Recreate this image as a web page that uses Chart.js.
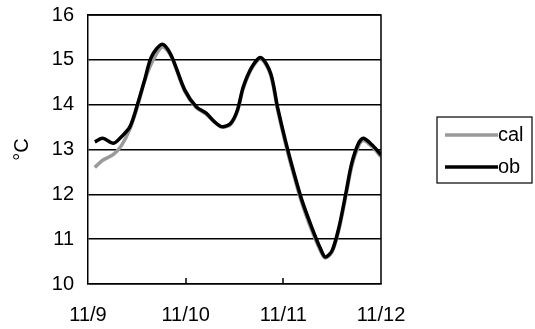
<!DOCTYPE html>
<html>
<head>
<meta charset="utf-8">
<script src="https://cdn.jsdelivr.net/npm/chart.js@4/dist/chart.umd.min.js"></script>
<style>
    html, body { margin: 0; padding: 0; background: #fff; }
    #wrap { width: 535px; height: 329px; }
</style>
</head>
<body>
<div id="wrap"><canvas id="chart" width="535" height="329"></canvas></div>
<script>
// time in days since 11/9 00:00
const days = [0.07, 0.15, 0.26, 0.34, 0.43, 0.51, 0.58, 0.65, 0.76, 0.85, 0.99, 1.11, 1.21, 1.29,
    1.37, 1.46, 1.53, 1.59, 1.68, 1.77, 1.87, 1.94, 2.02, 2.11, 2.19, 2.29, 2.38, 2.43, 2.50, 2.57,
    2.64, 2.70, 2.77, 2.82, 2.91, 3.0];
const obValues = [13.17, 13.25, 13.14, 13.28, 13.51, 14.03, 14.55, 15.07, 15.35, 15.11, 14.33, 13.95,
    13.81, 13.63, 13.51, 13.58, 13.88, 14.40, 14.85, 15.05, 14.70, 13.95, 13.21, 12.47, 11.87, 11.27,
    10.79, 10.60, 10.75, 11.27, 12.02, 12.69, 13.14, 13.25, 13.10, 12.88];
const calValues = [12.60, 12.76, 12.89, 13.08, 13.46, 13.98, 14.53, 14.92, 15.29, 15.08, 14.30, 13.93,
    13.79, 13.62, 13.50, 13.56, 13.85, 14.36, 14.82, 15.02, 14.66, 13.90, 13.15, 12.40, 11.80, 11.20,
    10.74, 10.58, 10.72, 11.22, 11.96, 12.62, 13.08, 13.20, 13.06, 12.84];
const xTickLabels = ['11/9', '11/10', '11/11', '11/12'];
const seriesNames = ['cal', 'ob'];

const FONT = 'Liberation Sans, Arial, sans-serif';

function toPoints(values) {
    return values.map((v, i) => ({ x: days[i], y: v }));
}

// small tick marks pointing up from the x axis + boxed legend
const extras = {
    id: 'extras',
    afterDraw(chart) {
        const { ctx, chartArea } = chart;
        const xs = chart.scales.x;
        ctx.save();
        ctx.strokeStyle = '#000';
        ctx.lineWidth = 1.5;
        [1, 2].forEach((d) => {
            const px = Math.round(xs.getPixelForValue(d));
            ctx.beginPath();
            ctx.moveTo(px, chartArea.bottom);
            ctx.lineTo(px, chartArea.bottom - 6);
            ctx.stroke();
        });

        const bx = 437, by = 117, bw = 95, bh = 66;
        ctx.lineWidth = 1.2;
        ctx.strokeRect(bx, by, bw, bh);
        ctx.font = '20px ' + FONT;
        ctx.textBaseline = 'middle';
        ctx.fillStyle = '#000';
        chart.data.datasets.forEach((ds, i) => {
            const y = by + 18 + i * 32;
            ctx.strokeStyle = ds.borderColor;
            ctx.lineWidth = ds.borderWidth;
            ctx.beginPath();
            ctx.moveTo(bx + 8, y);
            ctx.lineTo(bx + 61, y);
            ctx.stroke();
            ctx.fillText(ds.label, bx + 61, y);
        });
        ctx.restore();
    },
};

new Chart(document.getElementById('chart'), {
    type: 'line',
    data: {
        datasets: [
            {
                label: seriesNames[0],
                data: toPoints(calValues),
                borderColor: '#9a9a9a',
                borderWidth: 3.5,
                pointRadius: 0,
                tension: 0.3,
                order: 2,
            },
            {
                label: seriesNames[1],
                data: toPoints(obValues),
                borderColor: '#000',
                borderWidth: 3.5,
                pointRadius: 0,
                tension: 0.3,
                order: 1,
            },
        ],
    },
    options: {
        responsive: false,
        animation: false,
        layout: { padding: { top: 15, right: 154, left: 0, bottom: 0 } },
        plugins: {
            legend: { display: false },
            tooltip: { enabled: false },
        },
        scales: {
            x: {
                type: 'linear',
                min: 0,
                max: 3,
                afterFit(scale) { scale.height = 45; },
                afterBuildTicks(scale) {
                    scale.ticks = xTickLabels.map((_, i) => ({ value: i }));
                },
                ticks: {
                    color: '#000',
                    font: { family: FONT, size: 20 },
                    padding: 19,
                    maxRotation: 0,
                    callback: (v) => xTickLabels[v],
                },
                grid: { display: false, drawTicks: false },
                border: { display: true, color: '#000', width: 1.5 },
            },
            y: {
                min: 10,
                max: 16,
                afterFit(scale) {
                    scale.width = 88;
                    scale.paddingTop = 0;
                    scale.paddingBottom = 0;
                },
                ticks: {
                    stepSize: 1,
                    color: '#000',
                    font: { family: FONT, size: 20 },
                    padding: 14,
                },
                title: {
                    display: true,
                    text: '°C',
                    color: '#000',
                    font: { family: FONT, size: 20 },
                    padding: { top: 10, bottom: 0 },
                },
                grid: { color: '#000', lineWidth: 1.5, drawTicks: false },
                border: { display: true, color: '#000', width: 1.5 },
            },
        },
    },
    plugins: [extras, {
        id: 'frame',
        afterDatasetsDraw(chart) {
            const { ctx, chartArea: a } = chart;
            ctx.save();
            ctx.strokeStyle = '#000';
            ctx.lineWidth = 1.5;
            ctx.beginPath();
            ctx.moveTo(a.left, a.top);
            ctx.lineTo(a.right, a.top);
            ctx.lineTo(a.right, a.bottom);
            ctx.stroke();
            ctx.restore();
        },
    }],
});
</script>
</body>
</html>
